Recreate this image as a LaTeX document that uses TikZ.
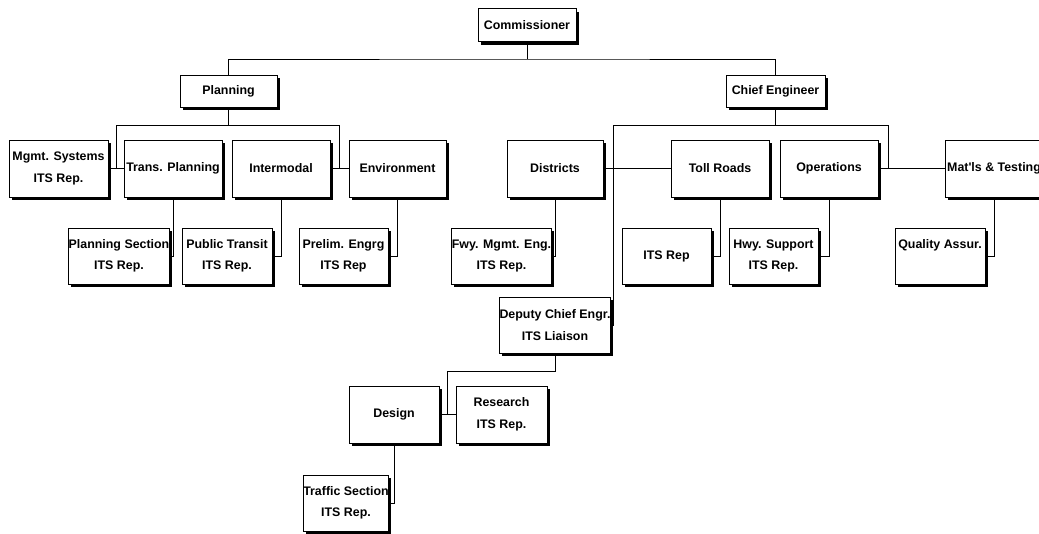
\documentclass[tikz,border=0pt]{standalone}
\usepackage{fontspec}
\setmainfont{Liberation Sans}
\usetikzlibrary{shadows,calc}

\begin{document}
\begin{tikzpicture}[
            x=1pt, y=-1pt,
            box/.style={draw, line width=1pt, fill=white, inner sep=0pt,
                align=center, minimum height=57pt, minimum width=98pt,
                font=\fontsize{12.4}{21.5}\selectfont\bfseries,
                drop shadow={shadow xshift=2.5pt, shadow yshift=-3pt, fill=black, opacity=1}},
            low/.style={box, minimum height=56pt, minimum width=90pt},
            top/.style={box, minimum height=33pt},
            link/.style={line width=0.9pt},
            ]
            \useasboundingbox (0,0) rectangle (1039,533);
            % top levels
            \node[top] (comm) at (527,25) {Commissioner};
            \node[top, minimum height=32pt, minimum width=97pt] (plan) at (228.5,91) {Planning};
            \node[top, minimum height=32pt, minimum width=99pt] (chief) at (775.5,91) {Chief Engineer};
            % planning side
            \node[box, minimum width=99pt] (mgmt) at (58.5,168.5) {Mgmt. Systems\\ITS Rep.};
            \node[box] (trans) at (173,168.5) {Trans. Planning};
            \node[box] (inter) at (281,168.5) {Intermodal};
            \node[box, minimum width=97pt] (env) at (397.5,168.5) {Environment};
            \node[low] (plansec) at (119,256) {Planning Section\\ITS Rep.};
            \node[low] (pubtr) at (227,256) {Public Transit\\ITS Rep.};
            \node[low, minimum width=89pt] (prelim) at (343.5,256) {Prelim. Engrg\\ITS Rep};
            % chief engineer side
            \node[box, minimum width=96pt] (dist) at (555,168.5) {Districts};
            \node[box] (toll) at (720,168.5) {Toll Roads};
            \node[box] (ops) at (829,168.5) {Operations};
            \node[box] (matl) at (994,168.5) {Mat\textquotesingle ls \& Testing};
            \node[low, minimum width=91pt] (fwy) at (501.5,256) {Fwy. Mgmt. Eng.\\ITS Rep.};
            \node[low, minimum width=89pt] (itsrep) at (666.5,256) {ITS Rep};
            \node[low, minimum width=89pt] (hwy) at (773.5,256) {Hwy. Support\\ITS Rep.};
            \node[low] (qual) at (940,256) {Quality Assur.\\\phantom{Ip}};
            \node[low, minimum width=98pt] (deputy) at (555,325) {Deputy Chief Engr.\\ITS Liaison};
            \node[box, minimum width=90pt] (design) at (394,414.5) {Design};
            \node[box, minimum width=91pt] (research) at (501.5,414.5) {Research\\ITS Rep.};
            \node[low, minimum width=78pt] (traffic) at (346,503) {Traffic Section\\ITS Rep.};

            \coordinate (c1) at (613,125);
            \coordinate (c2) at (888,125);

            \begin{scope}[link]
            \draw (comm.south) -- ++(0,17) coordinate (t0);
            \draw (plan.north) |- (t0) -| (chief.north);
            \draw (plan.south) -- ++(0,18) coordinate (p0);
            \draw ($(mgmt.east)!.5!(trans.west)$) |- (p0) -| ($(inter.east)!.5!(env.west)$);
            \draw (mgmt.east) -- (trans.west);
            \draw (inter.east) -- (env.west);
            \draw (trans.south) |- (plansec.east);
            \draw (inter.south) |- (pubtr.east);
            \draw (env.south) |- (prelim.east);
            \draw (chief.south) -- (chief.south |- c1);
            \draw (c1) -- (c2);
            \draw (c1) |- (deputy.east);
            \draw (c2) -- (c2 |- ops.east);
            \draw (ops.east) -- (matl.west);
            \draw (dist.east) -- (toll.west);
            \draw (dist.south) |- (fwy.east);
            \draw (toll.south) |- (itsrep.east);
            \draw (ops.south) |- (hwy.east);
            \draw (matl.south) |- (qual.east);
            \draw (deputy.south) -- ++(0,18) -| ($(design.east)!.5!(research.west)$);
            \draw (design.east) -- (research.west);
            \draw (design.south) |- (traffic.east);
            \end{scope}
        \end{tikzpicture}
\end{document}
